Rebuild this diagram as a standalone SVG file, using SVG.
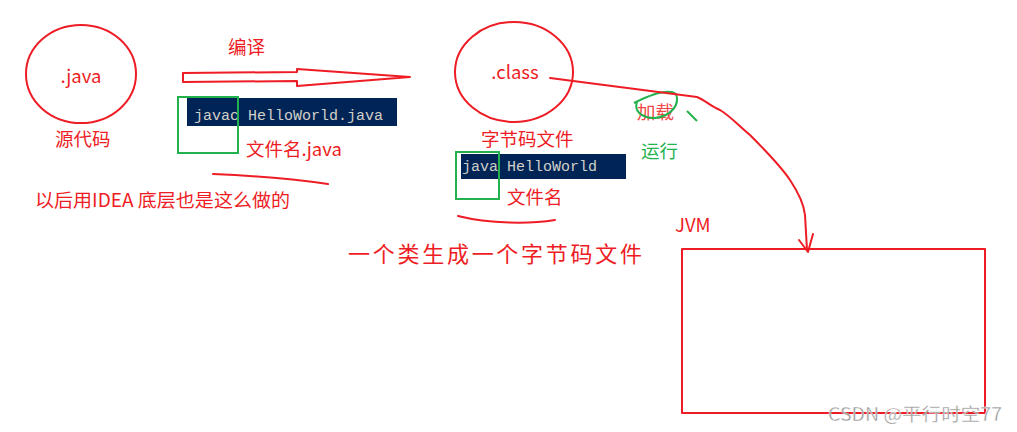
<svg xmlns="http://www.w3.org/2000/svg" width="1017" height="432" viewBox="0 0 1017 432">
<style>
.r{fill:none;stroke:#ee1c24;stroke-width:2;stroke-linecap:round;stroke-linejoin:round}
.g{fill:none;stroke:#22b14c;stroke-width:2}
.t{font-family:"Microsoft YaHei","Noto Sans CJK SC","Noto Sans",sans-serif;fill:#ee1c24;font-size:18.5px}
.tg{font-family:"Noto Sans CJK SC","Noto Sans",sans-serif;fill:#22b14c;font-size:18.5px}
.term{fill:#012456}
.mono{font-family:"Liberation Mono","DejaVu Sans Mono",monospace;fill:#d0d0c8;font-size:14.5px}
</style>
<rect width="1017" height="432" fill="#fff"/>
<g id="java">
<ellipse class="r" cx="81" cy="74" rx="55" ry="49"/>
<text class="t" x="81" y="83" text-anchor="middle" font-size="19.5">.java</text>
<text class="t" x="55" y="146">源代码</text>
</g>
<g id="compile">
<text class="t" x="228" y="54">编译</text>
<rect class="term" x="187" y="98" width="210" height="28"/>
<text class="mono" x="194" y="120" textLength="189" lengthAdjust="spacingAndGlyphs">javac HelloWorld.java</text>
<rect class="g" x="178" y="97" width="60" height="56"/>
<text class="t" x="246" y="156">文件名.java</text>
<text class="t" x="35" y="207" textLength="255" lengthAdjust="spacingAndGlyphs">以后用IDEA 底层也是这么做的</text>
</g>
<g id="class">
<ellipse class="r" cx="514" cy="72" rx="59" ry="50"/>
<text class="t" x="515" y="79" text-anchor="middle" font-size="19.5">.class</text>
<text class="t" x="481" y="146">字节码文件</text>
<rect class="term" x="461" y="154" width="165" height="25"/>
<text class="mono" x="462" y="171" textLength="135" lengthAdjust="spacingAndGlyphs">java HelloWorld</text>
<rect class="g" x="456" y="152" width="43" height="47"/>
<text class="t" x="507" y="204">文件名</text>
</g>
<g id="note">
<text x="348" y="262" font-family="'Noto Sans CJK SC',sans-serif" font-size="22" fill="#ee1c24" letter-spacing="3" textLength="297">一个类生成一个字节码文件</text>
</g>
<g id="load">
<text x="637" y="119" font-family="'Noto Sans CJK SC',sans-serif" font-size="18.5" fill="#f04848">加载</text>
<path class="g" d="M634,103 C650,95 668,88 676,94 C680,104 672,116 655,118 C640,118 634,110 637,102"/>
<path class="g" d="M687,111 L697,121"/>
<text class="tg" x="641" y="158">运行</text>
</g>
<g id="jvm">
<text class="t" x="675" y="232">JVM</text>
<rect class="r" x="682" y="249" width="303" height="164"/>
</g>
<g id="connectors">
<path class="r" d="M183,73 L297,72 L297,69 L410,77 L297,86 L297,81 L183,82 Z"/>
<path class="r" d="M213,174 C260,176 300,180 328,184"/>
<path class="r" d="M458,216 C490,224 530,224 555,220"/>
<path class="r" stroke-width="2.5" d="M550,78 L697,97 C705,100 710,106 720,110 C730,116 737,124 750,135 C765,150 780,165 790,180 C800,195 804,205 805,215 L807,250"/>
<path class="r" d="M799,240 L808,252 L813,234"/>
</g>
<text x="828" y="421" font-family="'Noto Sans CJK SC',sans-serif" font-size="18" fill="#999" stroke="#fff" stroke-width="0.3" textLength="174" lengthAdjust="spacingAndGlyphs">CSDN @平行时空77</text>
</svg>
